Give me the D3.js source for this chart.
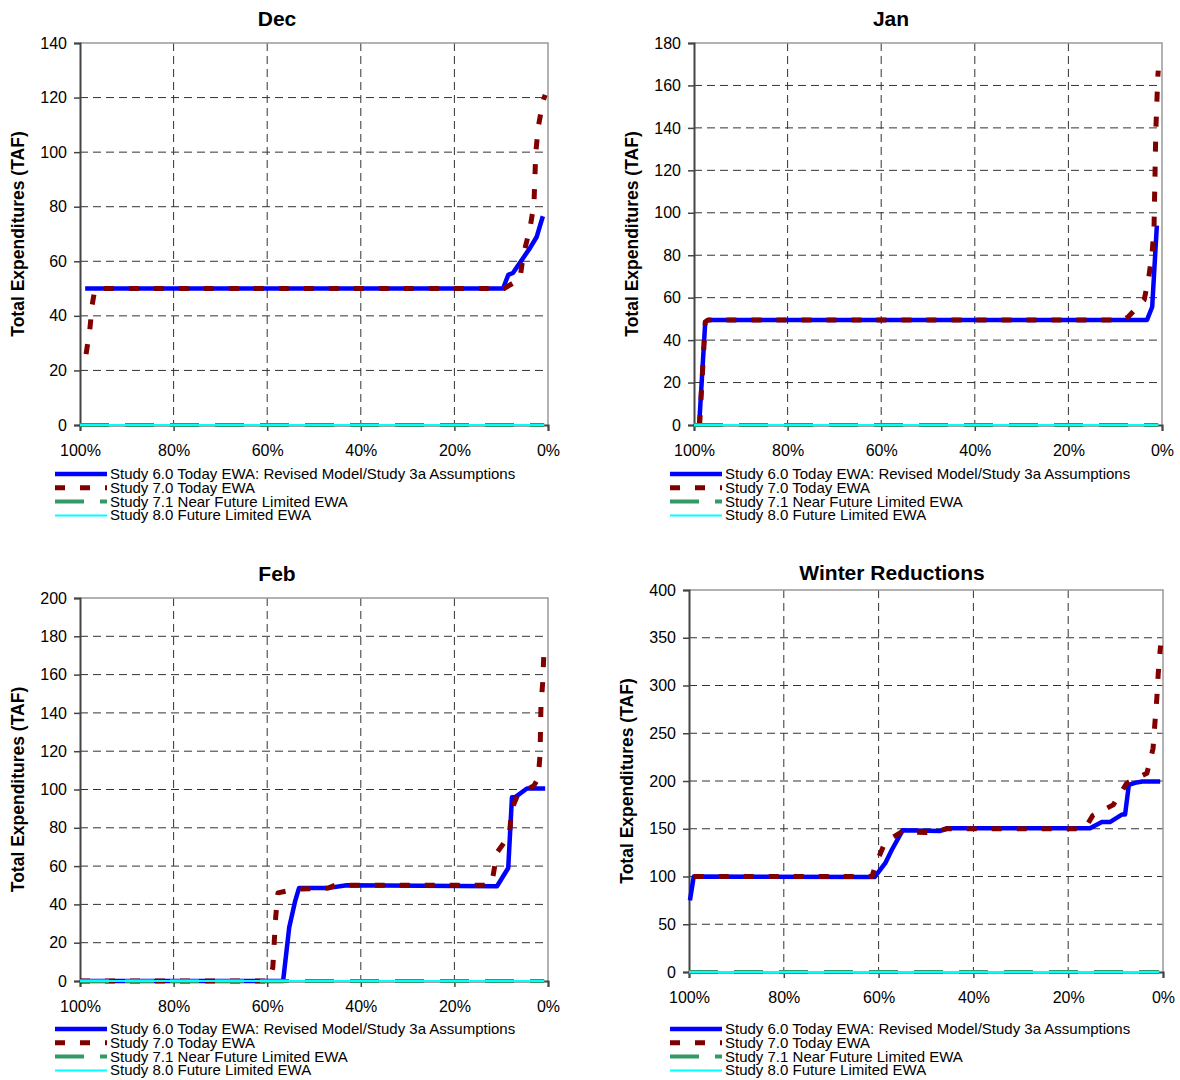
<!DOCTYPE html>
<html>
<head>
<meta charset="utf-8">
<script src="https://cdn.jsdelivr.net/npm/d3@7"></script>
<style>
    body { margin: 0; background: #fff; }
    svg { font-family: Arial, "Liberation Sans", sans-serif; }
</style>
</head>
<body>
<script>
// x axis: percent of years exceeded
var PCT_TICKS = [100, 80, 60, 40, 20, 0];
var PCT_LABELS = ["100%", "80%", "60%", "40%", "20%", "0%"];

var SERIES_NAMES = [
    "Study 6.0 Today EWA: Revised Model/Study 3a Assumptions",
    "Study 7.0 Today EWA",
    "Study 7.1 Near Future Limited EWA",
    "Study 8.0 Future Limited EWA"
];

// Dec
var DEC_TICKS = [0, 20, 40, 60, 80, 100, 120, 140];
var DEC_S60 = [[98.9, 50], [9.6, 50], [8.5, 55], [7.5, 55.7], [3.8, 65], [2.4, 69], [1.1, 76.5]];
var DEC_S70 = [[98.7, 26], [97.9, 35], [97.4, 44], [96.8, 50], [9.4, 50], [6, 53.5], [5.3, 62], [3.8, 72.6],
    [3, 81], [2.8, 91], [2.6, 100], [2.1, 109], [1.1, 118.5], [0.6, 121]];
var DEC_S71 = [[100, 0], [0.8, 0]];
var DEC_S80 = [[100, 0], [0.8, 0]];

// Jan
var JAN_TICKS = [0, 20, 40, 60, 80, 100, 120, 140, 160, 180];
var JAN_S60 = [[98.9, 0], [97.6, 48.5], [97, 49.5], [3.2, 49.5], [2.1, 55.6], [1.1, 94]];
var JAN_S70 = [[98.8, 0], [97.6, 48.5], [97, 49.5], [8.3, 49.5], [7.2, 51], [3.8, 59], [2.8, 70],
    [2.1, 81.5], [1.7, 93], [1.6, 106], [1.5, 117], [1.4, 130], [1.3, 140], [1.1, 152], [0.9, 164], [0.8, 167]];
var JAN_S71 = [[100, 0], [0.8, 0]];
var JAN_S80 = [[100, 0], [0.8, 0]];

// Feb
var FEB_TICKS = [0, 20, 40, 60, 80, 100, 120, 140, 160, 180, 200];
var FEB_S60 = [[100, 0], [56.6, 0], [55.3, 28], [54, 42], [53.2, 48.5], [47.2, 48.5], [43, 50],
    [10.9, 49.5], [8.5, 59], [7.7, 96], [7, 96], [4.5, 100.5], [0.6, 100.5]];
var FEB_S70 = [[100, 0], [59.8, 0], [58.8, 7], [58.5, 20], [58.2, 33], [57.7, 46], [54, 48], [47, 48.5],
    [45.5, 50], [12.4, 50], [11.8, 54], [10.9, 67], [8.3, 76], [7.7, 90], [6.5, 97], [5.3, 99], [3, 102],
    [2.1, 106], [1.7, 118], [1.6, 131], [1.5, 144], [1.1, 157], [0.9, 170], [0.7, 173]];
var FEB_S71 = [[100, 0], [0.8, 0]];
var FEB_S80 = [[100, 0], [0.8, 0]];

// Winter Reductions
var WIN_TICKS = [0, 50, 100, 150, 200, 250, 300, 350, 400];
var WIN_S60 = [[99.8, 75], [99, 100], [60.8, 99.5], [58.6, 114], [57.2, 128], [54.9, 148.5], [47, 147.6],
    [45.6, 150.5], [15.4, 150.5], [12.9, 157], [11.2, 157], [8.6, 165], [8, 165], [7.2, 196], [5.9, 198],
    [4.4, 199.5], [0.6, 199.5]];
var WIN_S70 = [[99, 100], [61.4, 100], [60.5, 114], [58.6, 136], [55, 147], [50, 146], [47, 148],
    [45.6, 150], [16.5, 150], [14.8, 164], [10.5, 175], [7.6, 198], [3.4, 208], [2.1, 234], [1.7, 261],
    [1.3, 287], [1, 313], [0.6, 337], [0.5, 342]];
var WIN_S71 = [[100, 0], [0.8, 0]];
var WIN_S80 = [[100, 0], [0.8, 0]];

// line styles for the four studies
var STYLES = [
    {color: "#0000ff", width: 4.5, dash: null},
    {color: "#800000", width: 5, dash: "10,15"},
    {color: "#339966", width: 4, dash: "29,16"},
    {color: "#00ffff", width: 2, dash: null}
];

var PANELS = [
    {title: "Dec", ticks: DEC_TICKS, series: [DEC_S60, DEC_S70, DEC_S71, DEC_S80],
        left: 80, right: 548, top: 43, bottom: 425, titleX: 277, titleY: 26, labelX: 24, legendX: 55, legendY: 474},
    {title: "Jan", ticks: JAN_TICKS, series: [JAN_S60, JAN_S70, JAN_S71, JAN_S80],
        left: 694, right: 1162, top: 43, bottom: 425, titleX: 891, titleY: 26, labelX: 638, legendX: 670, legendY: 474},
    {title: "Feb", ticks: FEB_TICKS, series: [FEB_S60, FEB_S70, FEB_S71, FEB_S80],
        left: 80, right: 548, top: 598, bottom: 981, titleX: 277, titleY: 581, labelX: 24, legendX: 55, legendY: 1029},
    {title: "Winter Reductions", ticks: WIN_TICKS, series: [WIN_S60, WIN_S70, WIN_S71, WIN_S80],
        left: 689, right: 1163, top: 590, bottom: 972, titleX: 892, titleY: 580, labelX: 633, legendX: 670, legendY: 1029}
];

var svg = d3.select("body").append("svg")
    .attr("width", 1180)
    .attr("height", 1080);

PANELS.forEach(function (p) {
    var g = svg.append("g");
    var ymax = p.ticks[p.ticks.length - 1];

    var xScale = d3.scaleLinear().domain([100, 0]).range([p.left, p.right]);
    var yScale = d3.scaleLinear().domain([0, ymax]).range([p.bottom, p.top]);

    // grid lines
    g.selectAll(".hgrid")
        .data(p.ticks.filter(function (t) { return t > 0 && t < ymax; }))
        .enter().append("line")
        .attr("x1", p.left).attr("x2", p.right)
        .attr("y1", function (d) { return yScale(d); })
        .attr("y2", function (d) { return yScale(d); })
        .attr("stroke", "#333").attr("stroke-width", 1)
        .attr("stroke-dasharray", "8,5");
    g.selectAll(".vgrid")
        .data(PCT_TICKS.filter(function (t) { return t > 0 && t < 100; }))
        .enter().append("line")
        .attr("x1", function (d) { return xScale(d); })
        .attr("x2", function (d) { return xScale(d); })
        .attr("y1", p.top).attr("y2", p.bottom)
        .attr("stroke", "#333").attr("stroke-width", 1)
        .attr("stroke-dasharray", "8,5");

    // top and right frame
    g.append("path")
        .attr("d", "M" + p.left + "," + p.top + "H" + p.right + "V" + p.bottom)
        .attr("fill", "none").attr("stroke", "#999").attr("stroke-width", 1.5);

    // axes
    var yAxis = d3.axisLeft(yScale).tickValues(p.ticks).tickSize(6).tickPadding(7);
    var xAxis = d3.axisBottom(xScale).tickValues(PCT_TICKS).tickSize(6).tickPadding(14)
        .tickFormat(function (d, i) { return PCT_LABELS[i]; });

    var ya = g.append("g").attr("transform", "translate(" + p.left + ",0)").call(yAxis);
    var xa = g.append("g").attr("transform", "translate(0," + p.bottom + ")").call(xAxis);
    [ya, xa].forEach(function (a) {
        a.select(".domain").attr("stroke", "#444").attr("stroke-width", 2);
        a.selectAll(".tick line").attr("stroke", "#444").attr("stroke-width", 1.5);
        a.selectAll("text").attr("font-size", 16).attr("fill", "#000")
            .attr("font-family", "Arial, 'Liberation Sans', sans-serif");
    });

    // series lines, drawn in series order
    var line = d3.line()
        .x(function (d) { return xScale(d[0]); })
        .y(function (d) { return yScale(d[1]); });

    STYLES.forEach(function (s, i) {
        g.append("path")
            .datum(p.series[i])
            .attr("d", line)
            .attr("fill", "none")
            .attr("stroke", s.color)
            .attr("stroke-width", s.width)
            .attr("stroke-dasharray", s.dash)
            .attr("stroke-linejoin", "round");
    });

    // title
    g.append("text")
        .attr("x", p.titleX).attr("y", p.titleY)
        .attr("text-anchor", "middle")
        .attr("font-size", 21).attr("font-weight", "bold")
        .text(p.title);

    // y axis label
    g.append("text")
        .attr("transform", "translate(" + p.labelX + "," + ((p.top + p.bottom) / 2) + ") rotate(-90)")
        .attr("text-anchor", "middle")
        .attr("font-size", 17.5).attr("font-weight", "bold")
        .text("Total Expenditures (TAF)");

    // legend
    var lg = g.append("g").attr("transform", "translate(" + p.legendX + "," + p.legendY + ")");
    SERIES_NAMES.forEach(function (name, i) {
        var s = STYLES[i];
        lg.append("line")
            .attr("x1", 0).attr("x2", 52)
            .attr("y1", i * 13.8).attr("y2", i * 13.8)
            .attr("stroke", s.color)
            .attr("stroke-width", s.width)
            .attr("stroke-dasharray", s.dash);
        lg.append("text")
            .attr("x", 55).attr("y", i * 13.8 + 5)
            .attr("font-size", 15)
            .text(name);
    });
});
</script>
</body>
</html>
